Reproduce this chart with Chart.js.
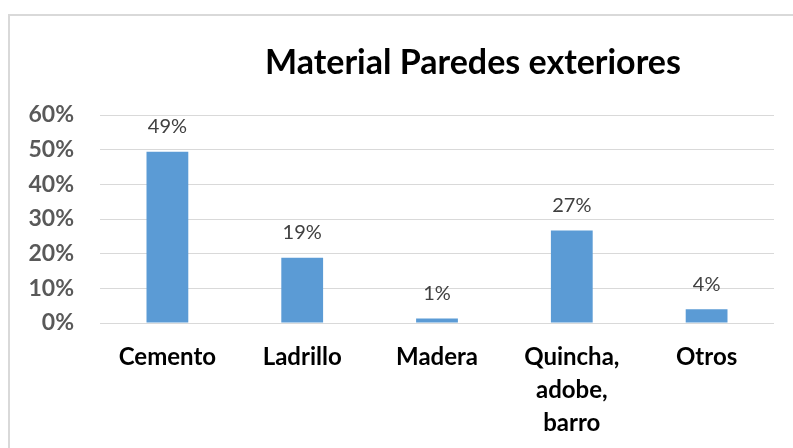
<!DOCTYPE html>
<html>
<head>
<meta charset="utf-8">
<script src="https://cdn.jsdelivr.net/npm/chart.js@4/dist/chart.umd.min.js"></script>
<style>
  html, body { margin: 0; padding: 0; background: #fff; }
  #wrap { position: relative; width: 793px; height: 448px; }
</style>
</head>
<body>
<div id="wrap"><canvas id="c"></canvas></div>
<script>
const chartTitle = 'Material Paredes exteriores';
const categories = ['Cemento', 'Ladrillo', 'Madera', ['Quincha,', 'adobe,', 'barro'], 'Otros'];
const values = [49.4, 18.8, 1.3, 26.7, 4.0];
const valueLabels = ['49%', '19%', '1%', '27%', '4%'];
const yTicks = [0, 10, 20, 30, 40, 50, 60];

const FONT = 'Lato, "Open Sans", "DejaVu Sans", sans-serif';

const framePlugin = {
  id: 'frame',
  beforeDraw(chart) {
    const ctx = chart.ctx;
    ctx.save();
    ctx.fillStyle = '#fff';
    ctx.fillRect(0, 0, chart.width, chart.height);
    ctx.fillStyle = '#d9d9d9';
    ctx.fillRect(8, 14, 2, chart.height - 14);
    ctx.fillRect(8, 14, chart.width - 8, 2);
    ctx.restore();
  },
  afterDraw(chart) {
    const ctx = chart.ctx;
    ctx.save();
    ctx.font = 'bold 34px ' + FONT;
    ctx.fillStyle = '#000';
    ctx.textAlign = 'center';
    ctx.textBaseline = 'alphabetic';
    ctx.fillText(chartTitle, 473, 74);
    ctx.restore();
  }
};

const valueLabelPlugin = {
  id: 'valueLabels',
  afterDatasetsDraw(chart) {
    const ctx = chart.ctx;
    const meta = chart.getDatasetMeta(0);
    ctx.save();
    ctx.font = '20px ' + FONT;
    ctx.fillStyle = '#404040';
    ctx.textAlign = 'center';
    ctx.textBaseline = 'alphabetic';
    meta.data.forEach((bar, i) => {
      ctx.fillText(valueLabels[i], bar.x, bar.y - 18.5);
    });
    ctx.restore();
  }
};

new Chart(document.getElementById('c'), {
  type: 'bar',
  data: {
    labels: categories,
    datasets: [{
      data: values,
      backgroundColor: '#5B9BD5',
      borderWidth: 0,
      barPercentage: 0.31,
      categoryPercentage: 1.0
    }]
  },
  options: {
    responsive: true,
    maintainAspectRatio: false,
    animation: false,
    devicePixelRatio: 1,
    layout: { padding: { top: 115, right: 19, left: 0, bottom: 0 } },
    plugins: {
      legend: { display: false },
      title: { display: false },
      tooltip: { enabled: false }
    },
    scales: {
      x: {
        grid: { display: false, drawTicks: false },
        border: { display: false },
        ticks: {
          color: '#000',
          font: { family: FONT, size: 24, weight: 'bold', lineHeight: 1.375 },
          padding: 17.5,
          maxRotation: 0,
          autoSkip: false
        },
        afterFit(scale) { scale.height = 125; }
      },
      y: {
        min: 0,
        max: 60,
        afterBuildTicks(scale) { scale.ticks = yTicks.map(v => ({ value: v })); },
        grid: { color: '#d9d9d9', lineWidth: 1, drawTicks: false },
        border: { display: false },
        ticks: {
          color: '#595959',
          font: { family: FONT, size: 23, weight: 'bold' },
          padding: 26,
          callback: v => v + '%'
        },
        afterFit(scale) { scale.width = 100; }
      }
    }
  },
  plugins: [framePlugin, valueLabelPlugin]
});
</script>
</body>
</html>
